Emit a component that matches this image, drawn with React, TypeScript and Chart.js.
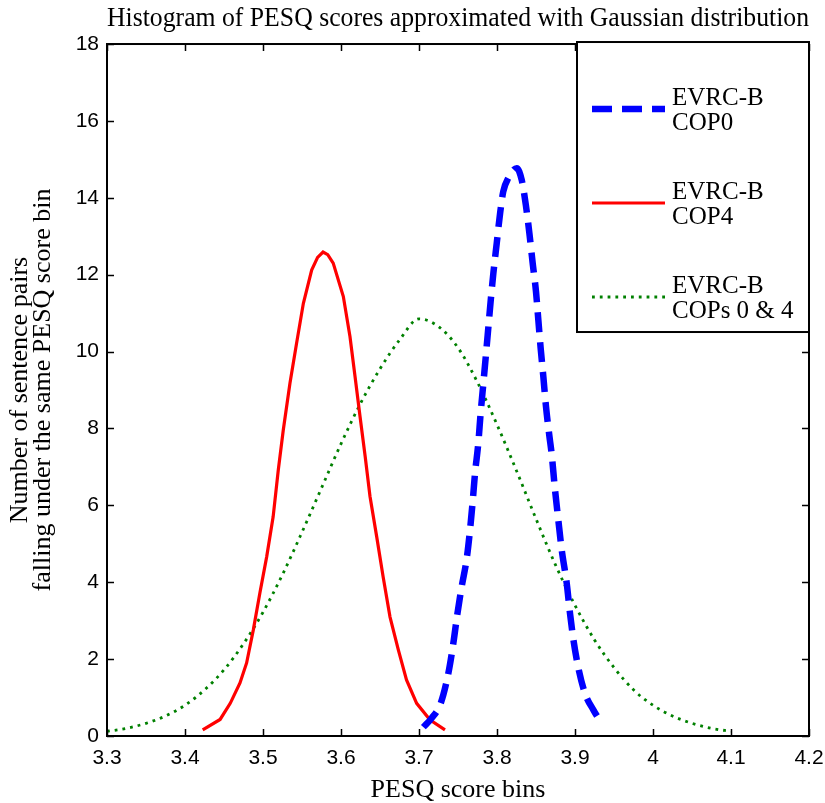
import React, { useEffect, useRef } from 'react';
import { Chart, registerables } from 'chart.js';

Chart.register(...registerables);

const chartTitle = 'Histogram of PESQ scores approximated with Gaussian distribution';
const xAxisTitle = 'PESQ score bins';
const yAxisTitle = ['Number of sentence pairs', 'falling under the same PESQ score bin'];

const xTicks = [3.3, 3.4, 3.5, 3.6, 3.7, 3.8, 3.9, 4.0, 4.1, 4.2];
const yTicks = [0, 2, 4, 6, 8, 10, 12, 14, 16, 18];

const seriesNames = [
  ['EVRC-B', 'COP0'],
  ['EVRC-B', 'COP4'],
  ['EVRC-B', 'COPs 0 & 4'],
];

// EVRC-B COP0 (blue dashed)
const cop0X = [3.7056, 3.716, 3.7278, 3.7376, 3.744, 3.749, 3.7547, 3.7612, 3.7654, 3.769, 3.7718, 3.776, 3.779, 3.7825, 3.786, 3.789, 3.792, 3.7953, 3.7996, 3.804, 3.808, 3.8145, 3.8253, 3.8317, 3.837, 3.8415, 3.8458, 3.85, 3.853, 3.856, 3.8594, 3.8628, 3.867, 3.870, 3.8744, 3.8786, 3.883, 3.8894, 3.8936, 3.898, 3.904, 3.9128, 3.9235, 3.934];
const cop0Y = [0.23, 0.46, 0.85, 1.63, 2.41, 3.15, 3.88, 4.62, 5.36, 6.14, 6.83, 7.61, 8.39, 9.17, 9.96, 10.65, 11.34, 12.03, 12.81, 13.6, 14.16, 14.51, 14.77, 14.46, 13.81, 13.08, 12.29, 11.56, 10.82, 10.08, 9.35, 8.57, 7.83, 7.35, 6.4, 5.62, 4.84, 3.97, 3.19, 2.5, 1.8, 1.11, 0.68, 0.33];

// EVRC-B COP4 (red solid)
const cop4X = [3.4227, 3.445, 3.458, 3.4705, 3.479, 3.4876, 3.496, 3.5047, 3.513, 3.5196, 3.526, 3.5346, 3.543, 3.5517, 3.5624, 3.570, 3.577, 3.583, 3.59, 3.603, 3.6115, 3.618, 3.6244, 3.631, 3.6372, 3.6458, 3.654, 3.6628, 3.6735, 3.684, 3.697, 3.714, 3.7333];
const cop4Y = [0.16, 0.43, 0.85, 1.38, 1.9, 2.76, 3.72, 4.66, 5.7, 6.92, 7.96, 9.18, 10.21, 11.25, 12.12, 12.45, 12.59, 12.52, 12.3, 11.43, 10.39, 9.35, 8.31, 7.27, 6.23, 5.18, 4.14, 3.1, 2.24, 1.46, 0.85, 0.42, 0.16];

// EVRC-B COPs 0 & 4 (green dotted)
const copsX = [3.3, 3.325, 3.35, 3.375, 3.4, 3.425, 3.45, 3.475, 3.5, 3.525, 3.55, 3.575, 3.6, 3.625, 3.65, 3.675, 3.7, 3.725, 3.75, 3.775, 3.8, 3.825, 3.85, 3.875, 3.9, 3.925, 3.95, 3.975, 4.0, 4.025, 4.05, 4.075, 4.1];
const copsY = [0.12, 0.2, 0.33, 0.52, 0.8, 1.2, 1.72, 2.4, 3.22, 4.2, 5.3, 6.45, 7.6, 8.65, 9.55, 10.3, 10.85, 10.65, 10.1, 9.2, 8.1, 6.9, 5.65, 4.45, 3.4, 2.5, 1.78, 1.2, 0.8, 0.52, 0.33, 0.2, 0.12];

const toPoints = (xs: number[], ys: number[]) => xs.map((x, i) => ({ x, y: ys[i] }));

const fmt = (v: number) => String(Number(v.toFixed(1)));

const framePlugin = {
  id: 'matlabFrame',
  afterDatasetsDraw(chart: any) {
    const { ctx, chartArea } = chart;
    const { left, right, top, bottom } = chartArea;
    const xs = chart.scales.x;
    const ys = chart.scales.y;
    ctx.save();
    ctx.strokeStyle = '#000';
    ctx.lineWidth = 1.5;
    ctx.setLineDash([]);
    const tl = 7;
    ctx.beginPath();
    for (const v of xTicks) {
      const px = Math.round(xs.getPixelForValue(v)) + 0.5;
      ctx.moveTo(px, bottom);
      ctx.lineTo(px, bottom - tl);
      ctx.moveTo(px, top);
      ctx.lineTo(px, top + tl);
    }
    for (const v of yTicks) {
      const py = Math.round(ys.getPixelForValue(v)) + 0.5;
      ctx.moveTo(left, py);
      ctx.lineTo(left + tl, py);
      ctx.moveTo(right, py);
      ctx.lineTo(right - tl, py);
    }
    ctx.stroke();
    ctx.lineWidth = 2;
    ctx.strokeRect(left, top, right - left, bottom - top);

    // legend box
    const bw = 232;
    const bx = right - bw;
    const by = top - 2;
    const bh = 290;
    ctx.fillStyle = '#fff';
    ctx.fillRect(bx, by, bw, bh);
    ctx.lineWidth = 2;
    ctx.strokeRect(bx, by, bw, bh);

    ctx.font = '25px "Liberation Serif"';
    ctx.textAlign = 'left';
    ctx.textBaseline = 'alphabetic';
    chart.data.datasets.forEach((ds: any, i: number) => {
      const ly = top + 65 + i * 94;
      ctx.save();
      ctx.strokeStyle = ds.borderColor;
      ctx.lineWidth = ds.borderWidth;
      ctx.setLineDash(ds.borderDash || []);
      ctx.lineCap = 'butt';
      ctx.beginPath();
      ctx.moveTo(bx + 15, ly);
      ctx.lineTo(bx + 88, ly);
      ctx.stroke();
      ctx.restore();
      ctx.fillStyle = '#000';
      const lines = seriesNames[i];
      ctx.fillText(lines[0], bx + 95, ly - 4);
      ctx.fillText(lines[1], bx + 95, ly + 21);
    });
    ctx.restore();
  },
};

export default function App() {
  const ref = useRef<HTMLCanvasElement>(null);
  useEffect(() => {
    const chart = new Chart(ref.current as HTMLCanvasElement, {
      type: 'line',
      data: {
        datasets: [
          {
            label: seriesNames[0].join(' '),
            data: toPoints(cop0X, cop0Y),
            borderColor: 'rgb(0,0,255)',
            borderWidth: 6.5,
            borderDash: [20, 10],
            borderCapStyle: 'butt',
            pointRadius: 0,
            cubicInterpolationMode: 'monotone',
            fill: false,
          },
          {
            label: seriesNames[1].join(' '),
            data: toPoints(cop4X, cop4Y),
            borderColor: 'rgb(255,0,0)',
            borderWidth: 3.2,
            pointRadius: 0,
            tension: 0,
            fill: false,
          },
          {
            label: seriesNames[2].join(' '),
            data: toPoints(copsX, copsY),
            borderColor: 'rgb(0,128,0)',
            borderWidth: 2.8,
            borderDash: [2.8, 5],
            borderCapStyle: 'butt',
            pointRadius: 0,
            cubicInterpolationMode: 'monotone',
            fill: false,
          },
        ] as any,
      },
      options: {
        animation: false,
        responsive: true,
        maintainAspectRatio: false,
        layout: { padding: { left: 0, right: 16, top: 0, bottom: 0 } },
        plugins: {
          legend: { display: false },
          tooltip: { enabled: false },
          title: {
            display: true,
            text: chartTitle,
            color: '#000',
            fullSize: false,
            font: { family: 'Liberation Serif', size: 27.6, weight: 'normal', lineHeight: 1.2 },
            padding: { top: 2, bottom: 8.9 },
          },
        },
        scales: {
          x: {
            type: 'linear',
            min: 3.3,
            max: 4.2,
            grid: { display: false, drawTicks: false },
            border: { display: false },
            afterBuildTicks: (s: any) => {
              s.ticks = xTicks.map((v) => ({ value: v }));
            },
            afterFit: (s: any) => {
              s.height = 67;
              s.paddingLeft = 0;
              s.paddingRight = 0;
            },
            ticks: {
              color: '#000',
              font: { family: 'Liberation Sans', size: 21 },
              padding: 10,
              maxRotation: 0,
              autoSkip: false,
              callback: (v: any) => fmt(Number(v)),
            },
            title: {
              display: true,
              text: xAxisTitle,
              color: '#000',
              font: { family: 'Liberation Serif', size: 26 },
              padding: { top: 0, bottom: -3 },
            },
          },
          y: {
            type: 'linear',
            min: 0,
            max: 18,
            grid: { display: false, drawTicks: false },
            border: { display: false },
            afterBuildTicks: (s: any) => {
              s.ticks = yTicks.map((v) => ({ value: v }));
            },
            afterFit: (s: any) => {
              s.width = 107;
              s.paddingTop = 0;
              s.paddingBottom = 0;
            },
            ticks: {
              color: '#000',
              font: { family: 'Liberation Sans', size: 21 },
              padding: 8,
              callback: (v: any) => String(v),
            },
            title: {
              display: true,
              text: yAxisTitle,
              color: '#000',
              font: { family: 'Liberation Serif', size: 26, lineHeight: 0.9 },
              padding: { top: 8, bottom: 0 },
            },
          },
        },
      } as any,
      plugins: [framePlugin],
    });
    return () => chart.destroy();
  }, []);
  return (
    <div style={{ position: 'absolute', left: 0, top: 0, width: 825, height: 803, background: '#fff' }}>
      <canvas ref={ref} />
    </div>
  );
}
